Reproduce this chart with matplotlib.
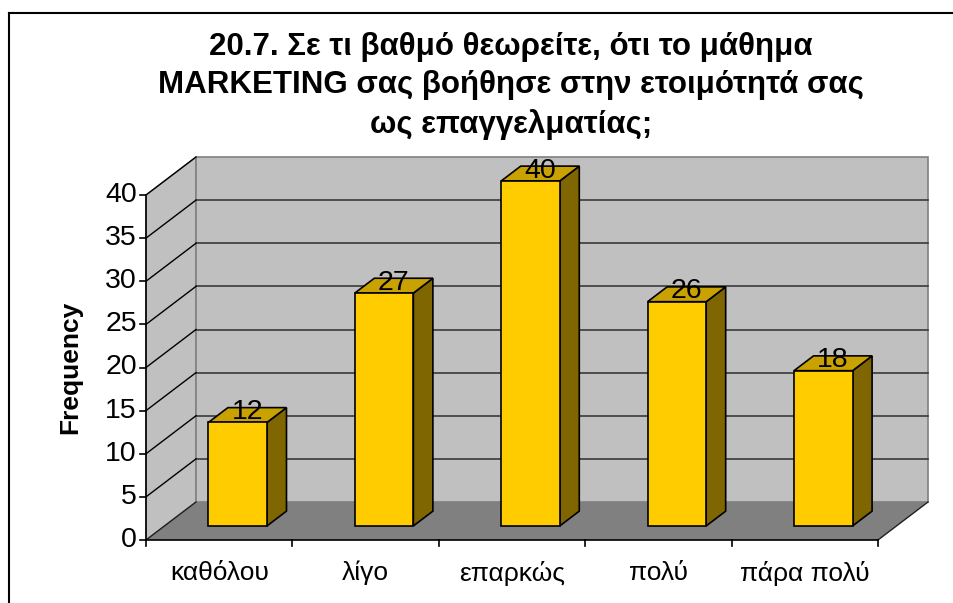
#!/usr/bin/env python3
# 3D-look column chart (Excel style) redrawn with plain matplotlib polygons.
import matplotlib.pyplot as plt
from matplotlib.patches import Polygon

categories = ["καθόλου", "λίγο", "επαρκώς", "πολύ", "πάρα πολύ"]
values = [12, 27, 40, 26, 18]
yticks = [0, 5, 10, 15, 20, 25, 30, 35, 40]
title = ("20.7. Σε τι βαθμό θεωρείτε, ότι το μάθημα\n"
         "MARKETING σας βοήθησε στην ετοιμότητά σας\n"
         "ως επαγγελματίας;")
ylabel = "Frequency"

plt.rcParams['font.family'] = ['Liberation Sans', 'DejaVu Sans']

W, H = 954, 603
fig = plt.figure(figsize=(W / 100, H / 100), dpi=100)
ax = fig.add_axes([0, 0, 1, 1])
ax.axis("off")

# pixel geometry of the plot box
ox, oy = 146, 540          # front origin in pixels
px_cat = 146.4             # pixels per category
px_val = 8.625             # pixels per unit value
ax.set_xlim(-ox / px_cat, (W - ox) / px_cat)
ax.set_ylim(-(H - oy) / px_val, oy / px_val)

n = len(categories)
ymax = 40
DX = 50 / px_cat           # depth offset (x) in category units
DY = 38 / px_val           # depth offset (y) in value units
z0, z1 = 0.37, 0.76        # bar front/back depth fraction
bw = 0.4                   # bar width (category units)

wall = "#c0c0c0"
floor = "#808080"

# walls and floor
ax.add_patch(Polygon([(0, 0), (DX, DY), (DX, ymax + DY), (0, ymax)],
                     closed=True, fc=wall, ec="#808080", lw=1, zorder=1))
ax.add_patch(Polygon([(DX, DY), (n + DX, DY), (n + DX, ymax + DY), (DX, ymax + DY)],
                     closed=True, fc=wall, ec="#808080", lw=1.2, zorder=1))
ax.add_patch(Polygon([(0, 0), (n, 0), (n + DX, DY), (DX, DY)],
                     closed=True, fc=floor, ec="none", zorder=2))
ax.plot([n, n + DX], [0, DY], color="#202020", lw=1, zorder=3)
ax.plot([0, DX], [0, DY], color="#202020", lw=1, zorder=3)

# gridlines
for v in yticks[1:]:
    if v < ymax:
        ax.plot([DX, n + DX], [v + DY, v + DY], color="#3a3a3a", lw=1.2, zorder=2)
    ax.plot([0, DX], [v, v + DY], color="black", lw=1, zorder=2)

# front axes
tick_x = 6 / px_cat
tick_y = 6 / px_val
ax.plot([0, 0], [0, ymax], color="black", lw=1.2, zorder=5)
ax.plot([0, n], [0, 0], color="black", lw=1.2, zorder=5)
for v in yticks:
    ax.plot([-tick_x, 0], [v, v], color="black", lw=1.2, zorder=5)
    ax.text(-9 / px_cat, v, str(v), ha="right", va="center", fontsize=20.5)
for i in range(n + 1):
    ax.plot([i, i], [0, -tick_y], color="black", lw=1.2, zorder=5)
for i, c in enumerate(categories):
    ax.text(i + 0.5, -33 / px_val, c, ha="center", va="center", fontsize=19)

# bars
front_c = "#ffcc00"
top_c = "#c9a100"
side_c = "#806600"
dd = (z1 - z0) * DX
for i, v in enumerate(values):
    c = i + 0.5 + z0 * DX
    x0, x1 = c - bw / 2, c + bw / 2
    b0, b1 = z0 * DY, z1 * DY
    ax.add_patch(Polygon([(x1, b0), (x1 + dd, b1), (x1 + dd, v + b1), (x1, v + b0)],
                         closed=True, fc=side_c, ec="black", lw=1.2, zorder=6))
    ax.add_patch(Polygon([(x0, v + b0), (x1, v + b0), (x1 + dd, v + b1), (x0 + dd, v + b1)],
                         closed=True, fc=top_c, ec="black", lw=1.2, zorder=6))
    ax.add_patch(Polygon([(x0, b0), (x1, b0), (x1, v + b0), (x0, v + b0)],
                         closed=True, fc=front_c, ec="black", lw=1.2, zorder=7))
    ax.text(c + dd / 2, v + (b0 + b1) / 2 + 3 / px_val, str(v),
            ha="center", va="center", fontsize=20.5, zorder=8)

# axis title and chart title
ax.text(-76 / px_cat, ymax / 2, ylabel, rotation=90, ha="center", va="center",
        fontsize=19, fontweight="bold")
fig.text(511 / W, 1 - 86 / H, title, ha="center", va="center", fontsize=22.5,
         fontweight="bold", linespacing=1.36)

# chart area border (only top and left visible in the crop)
fig.add_artist(plt.Line2D([9 / W, 9 / W], [0, 1 - 13 / H], color="black", lw=1.5))
fig.add_artist(plt.Line2D([9 / W, 1], [1 - 13 / H, 1 - 13 / H], color="black", lw=1.5))

fig.savefig("out.png", dpi=100)
